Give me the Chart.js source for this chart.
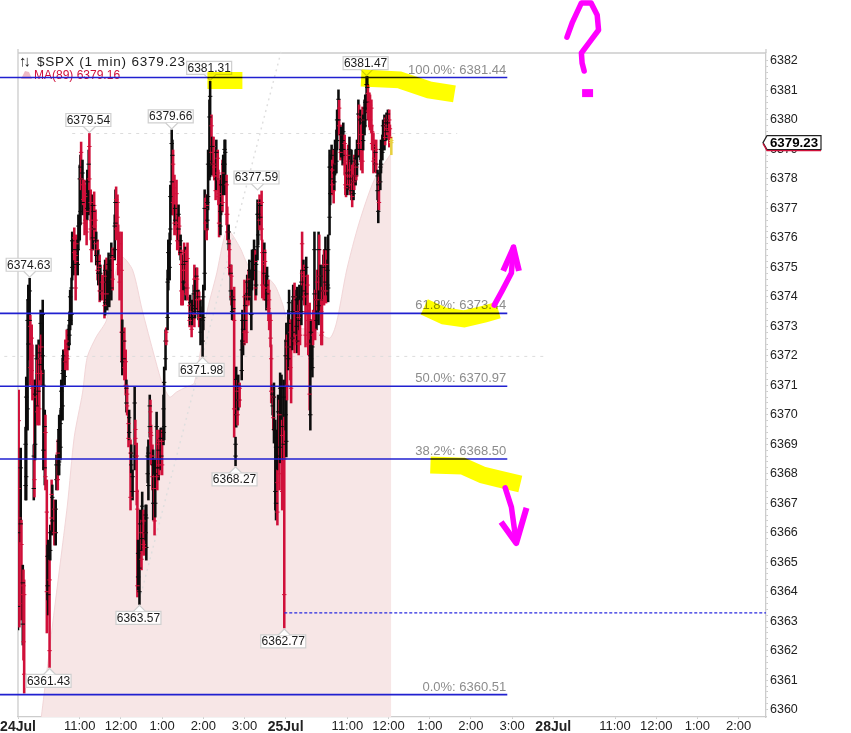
<!DOCTYPE html>
<html>
<head>
<meta charset="utf-8">
<title>$SPX (1 min)</title>
<script src="https://cdn.jsdelivr.net/npm/chart.js@4/dist/chart.umd.min.js"></script>
<style>
  html, body { margin: 0; padding: 0; background: #fff; }
  canvas { display: block; }
</style>
</head>
<body>
<canvas id="chart" width="851" height="733"></canvas>
<script>
// minutes since the open of 24Jul, 9:30
const barTimes = [
  0,1,2,4,5,7,8,9,11,12,
  14,15,17,18,20,21,23,24,25,27,
  28,30,31,33,34,36,37,39,40,42,
  43,44,46,47,49,50,53,55,56,58,
  59,60,62,63,65,66,68,69,71,72,
  74,75,76,78,79,81,82,84,85,87,
  88,90,91,92,94,95,97,98,100,101,
  103,104,106,107,109,110,111,113,114,116,
  117,119,120,123,126,127,129,130,132,133,
  136,138,141,142,143,145,146,148,151,152,
  154,155,157,158,159,161,162,164,165,167,
  170,171,173,174,175,177,178,180,181,183,
  184,186,187,189,190,192,193,194,196,197,
  199,200,202,203,205,206,208,209,210,212,
  213,215,216,218,219,221,222,224,225,226,
  228,229,231,232,234,235,237,238,240,241,
  242,244,245,247,250,251,253,254,256,257,
  258,260,261,263,264,266,269,270,272,273,
  275,276,277,279,280,282,283,285,286,288,
  289,291,292,293,295,296,298,299,301,302,
  304,305,307,308,310,311,312,314,315,317,
  318,320,321,323,326,327,328,330,331,333,
  334,336,337,340,341,344,346,347,349,350,
  352,353,355,356,358,359,360,362,363,365,
  366,368,369,371,372,373,375,376,378,379,
  381,382,384,385,387,388,390,391,392,394,
  395,397,398,400,401,403,404,406,407,409,
  410,411,413,414,416,417,419,420,422,423,
  425,426,427,429,430,432,433,435,436,438,
  439,441,442,443,445,446,448,449,451,452,
  454,455,457,458,460,461,462,464,465,467,
  468,470,471,473,474,476,477,478,480,481,
  483,484,486,487,489,490,492,493,494,496,
  497,499,500,502,503,505,506,508,509,510,
  512,513,515,516,518,519,521,522,524,525,
  526,528,529,531,532,534,535,537,538,539,
  541,542,544
];
const barHigh = [
  6367.11,6370.84,6367.45,6368.87,6366.43,6364.90,6364.74,6364.40,6369.58,6371.28,
  6373.89,6374.40,6374.63,6373.38,6373.05,6372.37,6368.98,6371.18,6371.18,6372.37,
  6371.86,6372.54,6372.37,6373.55,6372.71,6373.89,6371.52,6370.16,6369.99,6367.79,
  6365.58,6365.75,6365.07,6366.26,6367.79,6367.62,6367.11,6367.11,6368.64,6369.15,
  6369.48,6369.99,6370.16,6371.18,6371.93,6372.20,6372.03,6372.54,6372.88,6372.71,
  6373.05,6373.49,6374.23,6374.64,6376.20,6375.93,6376.34,6375.76,6376.10,6375.93,
  6376.78,6378.47,6378.81,6379.25,6378.64,6377.96,6377.96,6377.79,6377.29,6378.30,
  6378.98,6379.54,6377.63,6376.95,6377.46,6377.29,6377.56,6376.95,6376.20,6375.93,
  6375.59,6375.42,6375.08,6374.74,6375.08,6375.25,6375.32,6374.91,6375.49,6375.25,
  6375.83,6375.66,6376.78,6377.63,6377.73,6377.46,6376.44,6376.20,6376.20,6373.22,
  6372.88,6372.95,6372.20,6371.18,6371.01,6370.06,6370.16,6369.15,6368.98,6368.13,
  6370.94,6369.82,6369.04,6367.45,6365.75,6365.24,6366.77,6366.43,6367.38,6366.77,
  6366.26,6366.94,6366.94,6368.91,6369.15,6370.67,6370.50,6369.65,6368.98,6368.81,
  6367.96,6368.47,6370.09,6369.48,6369.15,6369.48,6369.55,6369.55,6369.48,6370.67,
  6371.62,6372.88,6372.95,6374.91,6375.93,6376.17,6377.79,6379.66,6379.32,6378.98,
  6378.13,6377.12,6377.96,6376.78,6377.12,6376.71,6376.10,6375.59,6375.25,6375.42,
  6375.83,6375.69,6375.59,6375.83,6373.99,6374.06,6373.79,6373.89,6374.40,6375.08,
  6374.57,6374.98,6374.98,6374.23,6374.17,6373.89,6373.66,6374.40,6377.63,6377.35,
  6377.46,6377.46,6378.98,6380.68,6381.31,6380.17,6379.42,6379.42,6378.64,6378.47,
  6379.32,6378.98,6378.30,6377.96,6377.12,6378.13,6378.64,6378.81,6379.32,6379.32,
  6378.13,6377.05,6376.44,6375.93,6375.08,6375.08,6374.23,6374.06,6374.33,6369.24,
  6371.62,6371.18,6371.35,6371.08,6372.54,6373.55,6373.22,6374.57,6374.06,6374.13,
  6374.74,6374.91,6375.25,6374.91,6375.59,6375.93,6375.59,6375.42,6377.29,6377.12,
  6377.46,6377.29,6377.59,6375.93,6375.42,6375.83,6375.59,6374.74,6375.01,6374.57,
  6374.23,6373.45,6372.37,6371.01,6371.01,6371.08,6369.82,6369.48,6368.13,6370.67,
  6370.50,6371.42,6371.35,6369.82,6371.18,6369.92,6372.54,6373.11,6372.71,6373.55,
  6374.23,6373.22,6373.22,6373.89,6374.40,6374.47,6373.89,6374.23,6374.33,6373.72,
  6374.40,6373.89,6374.91,6376.20,6375.25,6375.08,6373.79,6375.35,6374.74,6373.55,
  6373.79,6372.54,6373.22,6372.64,6373.55,6376.20,6374.23,6374.23,6374.91,6376.20,
  6376.10,6375.08,6373.89,6374.33,6375.42,6375.59,6376.03,6375.59,6375.25,6376.10,
  6378.98,6378.81,6379.15,6378.64,6378.98,6378.47,6379.32,6379.66,6380.34,6381.02,
  6380.68,6379.83,6379.76,6379.66,6379.90,6379.49,6378.98,6378.47,6378.47,6379.15,
  6379.42,6378.64,6378.98,6378.47,6378.13,6378.81,6378.98,6378.64,6379.32,6380.68,
  6380.51,6380.34,6379.83,6380.44,6380.17,6380.68,6380.85,6381.47,6381.47,6381.19,
  6380.92,6380.85,6380.68,6379.83,6379.56,6379.32,6379.15,6379.32,6378.30,6378.20,
  6378.13,6378.64,6379.32,6379.49,6380.00,6380.17,6380.07,6380.24,6380.17,6380.34,
  6380.34,6379.83,6379.42
];
const barLow = [
  6362.70,6366.77,6362.80,6365.69,6363.04,6362.19,6361.68,6360.56,6367.11,6367.11,
  6369.48,6371.86,6372.88,6371.01,6371.18,6370.50,6367.11,6367.21,6368.47,6369.82,
  6369.65,6370.33,6369.65,6371.18,6371.01,6371.52,6368.13,6367.62,6367.45,6362.60,
  6363.72,6363.21,6361.43,6365.07,6366.09,6365.92,6365.58,6365.58,6367.45,6367.45,
  6367.96,6367.96,6368.47,6369.82,6369.82,6371.18,6371.01,6371.52,6371.69,6371.52,
  6372.20,6372.37,6372.88,6373.05,6374.57,6374.74,6375.25,6373.89,6374.91,6374.74,
  6375.59,6375.93,6376.44,6377.63,6376.78,6377.12,6376.10,6376.27,6375.76,6376.61,
  6376.78,6377.63,6375.93,6375.18,6375.59,6375.93,6375.93,6375.42,6375.08,6374.57,
  6374.40,6373.83,6373.89,6373.89,6373.28,6373.38,6373.72,6373.55,6374.06,6373.66,
  6373.89,6374.23,6375.25,6376.10,6375.93,6376.44,6374.74,6373.89,6371.79,6371.35,
  6371.52,6371.18,6370.67,6370.09,6369.99,6368.91,6369.15,6366.77,6368.03,6367.11,
  6368.13,6368.98,6366.94,6363.82,6364.06,6363.57,6365.07,6364.74,6365.41,6365.24,
  6365.24,6365.75,6365.07,6367.69,6367.11,6369.24,6368.98,6368.30,6367.45,6366.43,
  6365.92,6366.53,6367.69,6367.45,6367.79,6367.96,6368.13,6368.30,6367.96,6368.98,
  6369.15,6371.52,6372.37,6372.88,6374.23,6374.57,6375.93,6377.46,6376.78,6376.78,
  6376.10,6376.44,6376.10,6375.59,6375.93,6375.42,6375.25,6373.72,6373.72,6374.23,
  6374.57,6373.89,6374.06,6373.89,6372.98,6373.05,6372.64,6373.05,6373.22,6372.98,
  6373.28,6373.89,6373.55,6373.22,6372.98,6372.37,6371.98,6372.88,6374.23,6376.27,
  6375.93,6376.27,6376.95,6377.96,6378.07,6378.47,6378.13,6378.13,6377.96,6377.29,
  6377.63,6377.96,6377.12,6376.03,6376.10,6376.78,6376.88,6377.46,6378.13,6377.46,
  6376.44,6375.93,6375.59,6374.74,6373.89,6373.72,6373.22,6373.38,6369.24,6368.27,
  6369.58,6369.65,6370.16,6370.26,6371.18,6372.10,6372.03,6372.37,6372.88,6372.44,
  6373.89,6373.72,6373.89,6372.88,6374.23,6374.57,6373.89,6374.06,6375.25,6375.76,
  6376.27,6376.44,6375.93,6373.96,6373.89,6374.40,6373.89,6373.55,6373.72,6373.22,
  6372.88,6372.30,6370.40,6369.99,6369.48,6369.04,6366.77,6366.43,6366.26,6368.13,
  6367.45,6368.37,6369.15,6366.77,6368.47,6362.77,6369.48,6368.57,6370.50,6371.52,
  6371.86,6371.18,6370.40,6372.20,6372.37,6372.10,6372.37,6372.71,6372.10,6372.03,
  6372.88,6372.37,6373.05,6374.40,6373.89,6373.72,6372.30,6373.72,6373.38,6372.03,
  6370.16,6369.48,6371.52,6371.28,6372.37,6373.55,6372.54,6372.88,6373.55,6373.05,
  6374.23,6373.55,6372.37,6372.37,6373.89,6373.72,6374.06,6373.79,6374.06,6373.83,
  6376.10,6377.12,6377.63,6377.46,6377.18,6377.63,6378.13,6378.20,6378.98,6379.56,
  6379.49,6378.64,6378.74,6378.47,6378.74,6378.13,6377.46,6377.39,6377.46,6377.79,
  6377.63,6377.46,6377.29,6377.05,6377.29,6377.63,6377.79,6377.96,6378.13,6378.74,
  6378.81,6378.64,6378.30,6378.20,6378.98,6379.49,6379.76,6380.34,6380.24,6380.00,
  6379.76,6379.66,6379.56,6378.98,6378.20,6378.47,6378.24,6378.20,6377.29,6376.51,
  6376.95,6377.63,6378.20,6378.64,6378.98,6378.98,6379.15,6379.32,6379.49,6379.66,
  6379.08,6379.32,6378.82
];
const barOpen = [
  6363.5,6369.8,6366.5,6366.3,6365.6,6362.9,6364.2,6363.9,6367.6,6367.9,
  6370.2,6372.4,6373.2,6373.0,6372.6,6372.0,6367.5,6370.6,6369.0,6370.3,
  6371.4,6370.8,6371.9,6371.7,6372.3,6372.0,6368.8,6368.2,6369.4,6366.7,
  6364.2,6363.9,6364.4,6365.4,6367.3,6366.4,6366.8,6366.0,6367.8,6368.7,
  6368.3,6368.4,6368.9,6370.2,6370.3,6371.5,6371.3,6372.2,6372.5,6372.3,
  6372.4,6372.7,6373.2,6373.4,6375.0,6375.1,6376.0,6375.4,6375.8,6375.1,
  6375.9,6376.5,6376.9,6378.9,6377.2,6377.8,6377.5,6377.4,6376.9,6377.0,
  6377.2,6379.1,6377.2,6376.6,6376.0,6376.3,6377.1,6376.6,6375.4,6375.6,
  6374.8,6375.0,6374.2,6374.5,6374.7,6373.8,6374.9,6373.9,6374.4,6374.1,
  6374.3,6375.3,6375.6,6376.5,6377.3,6377.2,6376.0,6375.8,6374.9,6371.8,
  6371.9,6372.5,6371.8,6370.4,6370.7,6369.7,6369.4,6368.7,6368.3,6367.4,
  6368.6,6369.5,6368.6,6366.8,6364.5,6364.0,6365.4,6366.0,6365.8,6366.4,
  6366.0,6366.0,6365.5,6368.0,6367.6,6369.6,6370.1,6369.3,6368.6,6367.0,
  6367.5,6367.0,6368.2,6369.0,6368.2,6369.1,6368.5,6368.6,6369.1,6369.4,
  6369.6,6371.9,6372.8,6373.3,6374.6,6375.0,6376.3,6377.9,6377.2,6378.5,
  6377.7,6376.6,6377.5,6376.5,6376.3,6376.4,6375.5,6375.1,6374.9,6374.5,
  6375.5,6374.3,6375.2,6375.3,6373.7,6373.3,6373.5,6373.3,6373.5,6374.6,
  6373.6,6374.2,6374.6,6373.5,6373.9,6372.8,6372.5,6373.3,6374.8,6377.0,
  6377.1,6376.6,6377.4,6378.4,6378.6,6379.8,6378.5,6379.1,6378.4,6378.1,
  6378.0,6378.7,6378.0,6377.5,6376.4,6377.1,6378.2,6377.8,6378.5,6377.9,
  6377.8,6376.8,6375.8,6375.6,6374.2,6374.7,6373.5,6373.6,6373.2,6368.6,
  6370.0,6370.8,6370.5,6370.9,6371.5,6372.5,6372.4,6374.0,6373.2,6373.7,
  6374.1,6374.6,6374.3,6373.4,6374.6,6374.9,6375.2,6374.4,6375.7,6376.1,
  6377.2,6376.7,6377.2,6375.5,6375.1,6374.8,6375.2,6373.9,6374.1,6374.2,
  6373.9,6373.2,6371.9,6370.3,6370.6,6369.5,6367.4,6367.0,6367.7,6368.6,
  6370.0,6368.9,6369.6,6369.3,6369.0,6368.5,6370.0,6369.1,6372.3,6371.9,
  6372.3,6372.8,6372.6,6372.6,6372.8,6374.0,6373.5,6373.0,6372.5,6373.3,
  6373.2,6373.5,6373.5,6375.8,6374.2,6374.7,6373.5,6374.1,6374.4,6373.2,
  6373.2,6370.0,6371.9,6371.6,6373.2,6374.1,6373.9,6373.2,6374.5,6373.7,
  6375.6,6373.9,6373.5,6373.9,6374.2,6375.1,6374.5,6375.1,6374.4,6374.3,
  6376.7,6377.5,6378.0,6378.3,6378.5,6377.9,6378.5,6378.6,6379.3,6380.0,
  6380.4,6379.5,6379.0,6378.8,6379.0,6379.2,6378.6,6378.2,6377.7,6378.8,
  6378.0,6378.3,6377.6,6378.1,6377.5,6378.5,6378.1,6378.4,6378.5,6379.2,
  6380.1,6379.0,6379.5,6380.0,6379.3,6379.8,6380.0,6380.6,6380.6,6380.9,
  6380.6,6380.5,6380.4,6379.6,6379.2,6379.1,6378.5,6379.0,6377.6,6376.9,
  6377.9,6377.9,6378.5,6378.9,6379.3,6379.3,6379.8,6379.6,6380.0,6379.9,
  6380.0,6379.7,6379.3
];
const barClose = [
  6366.0,6367.5,6363.6,6368.2,6363.9,6364.3,6362.3,6361.2,6369.0,6370.6,
  6373.2,6373.9,6374.2,6371.6,6371.5,6370.9,6368.6,6367.8,6370.7,6371.9,
  6370.1,6372.1,6370.2,6373.1,6371.4,6373.4,6371.0,6369.6,6367.9,6364.0,
  6365.2,6365.2,6362.0,6366.0,6366.5,6367.2,6366.0,6366.8,6368.3,6367.8,
  6369.1,6369.5,6369.7,6370.8,6371.4,6372.0,6371.8,6371.8,6372.0,6371.9,
  6372.9,6373.2,6374.0,6374.3,6375.9,6375.6,6375.5,6374.3,6375.2,6375.6,
  6376.4,6378.0,6378.4,6378.0,6378.2,6377.3,6376.5,6376.6,6376.2,6377.9,
  6378.5,6378.0,6376.3,6375.6,6377.1,6376.9,6376.4,6375.8,6375.9,6374.9,
  6375.2,6374.2,6374.8,6374.1,6373.7,6374.9,6374.1,6374.5,6375.1,6374.9,
  6375.4,6374.6,6376.4,6377.2,6376.3,6376.7,6375.1,6374.5,6372.8,6372.8,
  6372.5,6371.6,6371.0,6370.9,6370.3,6369.2,6369.9,6367.2,6368.7,6367.9,
  6370.4,6369.2,6367.4,6364.2,6365.3,6364.8,6366.3,6365.1,6366.9,6365.6,
  6365.5,6366.6,6366.5,6368.6,6368.7,6370.3,6369.4,6368.6,6367.9,6368.3,
  6366.4,6368.0,6369.6,6367.9,6368.8,6368.3,6369.2,6369.2,6368.3,6370.2,
  6371.1,6372.5,6372.5,6374.5,6375.5,6375.8,6377.4,6379.2,6378.8,6377.2,
  6376.5,6377.0,6376.5,6375.9,6376.8,6375.7,6375.9,6374.2,6374.1,6375.1,
  6374.9,6375.2,6374.4,6374.3,6373.2,6373.8,6372.9,6373.7,6374.1,6373.4,
  6374.2,6374.7,6373.9,6374.0,6373.3,6373.5,6373.2,6374.0,6377.0,6376.5,
  6376.3,6377.2,6378.5,6380.1,6380.8,6378.9,6379.1,6378.5,6378.1,6377.6,
  6378.9,6378.2,6377.4,6376.5,6376.9,6377.8,6377.2,6378.5,6379.0,6378.9,
  6376.8,6376.2,6376.2,6375.0,6374.8,6374.0,6374.0,6373.9,6370.2,6369.0,
  6371.2,6370.0,6371.0,6370.5,6372.2,6373.2,6372.9,6372.8,6373.7,6372.8,
  6374.5,6374.0,6374.9,6374.4,6375.2,6375.6,6374.3,6375.1,6376.8,6376.8,
  6376.6,6377.1,6376.3,6374.4,6374.3,6375.5,6374.3,6374.4,6374.7,6373.6,
  6373.2,6372.6,6370.8,6370.7,6369.9,6370.6,6369.2,6368.9,6366.7,6370.1,
  6368.0,6370.9,6370.9,6367.4,6370.6,6363.9,6372.0,6372.5,6371.0,6373.1,
  6373.8,6371.6,6370.9,6373.5,6374.0,6372.5,6372.7,6373.9,6373.9,6372.4,
  6374.0,6372.7,6374.5,6374.8,6374.9,6374.0,6372.7,6375.0,6373.7,6372.4,
  6370.7,6372.0,6372.8,6372.3,6372.7,6375.6,6372.9,6373.9,6373.9,6375.6,
  6374.7,6374.7,6372.7,6372.8,6375.0,6374.2,6375.6,6374.2,6374.9,6375.6,
  6378.4,6378.4,6378.8,6377.8,6377.6,6378.2,6379.0,6379.3,6380.0,6380.7,
  6379.8,6378.9,6379.5,6379.3,6379.6,6378.5,6377.8,6377.7,6378.2,6378.1,
  6379.0,6377.8,6378.6,6377.4,6377.9,6377.9,6378.7,6378.1,6379.0,6380.2,
  6379.2,6380.0,6378.6,6378.6,6379.9,6380.4,6380.6,6381.2,6381.1,6380.3,
  6380.1,6380.0,6379.8,6379.2,6378.6,6378.7,6378.9,6378.5,6378.1,6377.8,
  6377.2,6378.4,6379.0,6379.3,6379.8,6379.9,6379.4,6380.0,6379.7,6380.2,
  6379.4,6379.4,6379.23
];

// MA(89) outline
const maTimes = [
  34,53,72,82,94,101,114,129,143,152,167,181,199,210,221,231,245,257,275,289,
  305,323,337,356,374,385,393,410,429,454,464,479,497,519,544
];
const maValues = [
  6359.75,6363.38,6366.94,6369.25,6370.74,6371.96,6372.64,6373.21,6374.91,6375.35,
  6374.91,6373.55,6371.96,6371.08,6370.60,6370.77,6370.94,6371.08,6373.45,6374.74,
  6376.27,6375.69,6375.01,6374.81,6374.40,6373.79,6373.21,6372.94,6372.88,6372.60,
  6373.11,6374.91,6376.50,6377.96,6378.88
];

// fibonacci levels
const fibLevels = [6381.44, 6373.44, 6370.97, 6368.50, 6360.51];
const fibNames = ['100.0%', '61.8%', '50.0%', '38.2%', '0.0%'];
const fibStart = -27;
const fibEnd = 713;

// peak and trough callouts
const calloutTimes = [17, 104, 224, 280, 349, 508, 269, 317, 177, 388, 46];
const calloutPrices = [6374.63, 6379.54, 6379.66, 6381.31, 6377.59, 6381.47, 6371.98, 6368.27, 6363.57, 6362.77, 6361.43];
const calloutBelow = [false, false, false, false, false, false, true, true, true, true, true];

// dotted and dashed guides
const guideHigh = [[79, 6379.54], [640, 6379.54]];
const guideMid = [[-20, 6371.98], [770, 6371.98]];
const guideDiagonal = [[177, 6363.72], [384, 6382.37]];
const guideLow = [[388, 6363.28], [1090, 6363.28]];

// hand drawn yellow marker
const markerTop = [[276, 6381.34], [327, 6381.34]];
const markerRight = [[500, 6381.42], [556, 6381.36], [599, 6381.02], [636, 6380.88]];
const markerMiddle = [[592, 6373.66], [621, 6373.35], [650, 6373.25], [680, 6373.42], [700, 6373.55]];
const markerLower = [[601, 6368.30], [648, 6368.26], [677, 6367.96], [701, 6367.82], [732, 6367.65]];

// hand drawn magenta pen
const penQuestion = [[800, 6382.81], [808, 6383.32], [821, 6383.97], [835, 6383.97], [844, 6383.56], [846, 6383.05], [832, 6382.61], [821, 6382.27], [822, 6381.93], [825, 6381.66]];
const penDot = [[822, 6380.91], [838, 6380.91]];
const penUpShaft = [[694, 6373.72], [706, 6374.23], [719, 6374.81], [722, 6375.69]];
const penUpHead = [[707, 6374.88], [722, 6375.66], [730, 6374.88]];
const penDownShaft = [[710, 6367.52], [719, 6366.87], [726, 6365.68]];
const penDownHead = [[704, 6366.36], [726, 6365.65], [741, 6366.84]];

// axis
const timeTicks = [0, 90, 150, 210, 270, 330, 390, 480, 540, 600, 660, 720, 780, 870, 930, 990, 1050];
const timeLabels = ['24Jul', '11:00', '12:00', '1:00', '2:00', '3:00', '25Jul', '11:00', '12:00', '1:00', '2:00', '3:00', '28Jul', '11:00', '12:00', '1:00', '2:00'];
const priceTicks = [6360, 6361, 6362, 6363, 6364, 6365, 6366, 6367, 6368, 6369, 6370, 6371, 6372, 6373, 6374, 6375, 6376, 6377, 6378, 6379, 6380, 6381, 6382];
const lastPrice = 6379.23;
const maLast = 6379.16;

const FONT = '"Liberation Sans", Arial, sans-serif';
const RED = '#d0103a';
const BLACK = '#0c0c0c';

function barColor(i) {
    if (i === barTimes.length - 1) return '#e8d040';
    return barClose[i] < barOpen[i] ? RED : BLACK;
}

function toPoints(pairs) {
    return pairs.map(p => ({ x: p[0], y: p[1] }));
}

function strokeSet(label, pairs, color, width, order, extra) {
    return Object.assign({
        type: 'line', label: label, data: toPoints(pairs), borderColor: color, borderWidth: width,
        pointRadius: 0, fill: false, tension: 0, clip: false, order: order
    }, extra || {});
}

function drawLabels(chart) {
    const ctx = chart.ctx, xs = chart.scales.x, ys = chart.scales.y;
    ctx.save();

    // fibonacci captions, grey above each line
    ctx.font = '13px ' + FONT;
    ctx.fillStyle = '#8c8c8c';
    ctx.textAlign = 'right';
    ctx.textBaseline = 'bottom';
    fibLevels.forEach((v, i) => {
        ctx.fillText(fibNames[i] + ': ' + v.toFixed(2), xs.getPixelForValue(fibEnd) - 1, ys.getPixelForValue(v) - 1);
    });

    // callouts with a small pointer
    ctx.font = '12px ' + FONT;
    ctx.textAlign = 'center';
    ctx.textBaseline = 'middle';
    calloutPrices.forEach((v, i) => {
        const px = xs.getPixelForValue(calloutTimes[i]);
        const py = ys.getPixelForValue(v);
        const dir = calloutBelow[i] ? 1 : -1;
        const boxY = calloutBelow[i] ? py + 7 : py - 20;
        const left = px - 23.5;
        ctx.beginPath();
        ctx.rect(left, boxY, 45, 13);
        ctx.fillStyle = 'rgba(255,255,255,0.9)';
        ctx.fill();
        ctx.strokeStyle = '#cfcfcf';
        ctx.lineWidth = 1.2;
        ctx.stroke();
        ctx.beginPath();
        ctx.moveTo(px - 6, py + dir * 7);
        ctx.lineTo(px, py + dir);
        ctx.lineTo(px + 6, py + dir * 7);
        ctx.fillStyle = '#fff';
        ctx.fill();
        ctx.stroke();
        ctx.fillStyle = '#1c1c1c';
        ctx.fillText(v.toFixed(2), left + 22.5, boxY + 7);
    });

    // top left legend
    ctx.textAlign = 'left';
    ctx.fillStyle = '#1c1c1c';
    ctx.font = 'bold 15px ' + FONT;
    ctx.letterSpacing = '-3px';
    ctx.fillText('↑↓', 19, 62);
    ctx.letterSpacing = '0.8px';
    ctx.font = '13.5px ' + FONT;
    ctx.fillText('$SPX (1 min) ' + lastPrice.toFixed(2), 37, 62);
    ctx.letterSpacing = '0px';
    ctx.font = '12px ' + FONT;
    ctx.fillStyle = RED;
    ctx.fillText('MA(89) ' + maLast.toFixed(2), 34, 76);
    ctx.beginPath();
    ctx.moveTo(21, 79);
    ctx.lineTo(25, 71);
    ctx.lineTo(29, 72);
    ctx.lineTo(32, 79);
    ctx.closePath();
    ctx.fillStyle = '#eeb8c4';
    ctx.fill();
    ctx.restore();
}

function drawPriceFlag(chart) {
    const ctx = chart.ctx, ys = chart.scales.y;
    const py = ys.getPixelForValue(lastPrice);
    ctx.save();
    ctx.beginPath();
    ctx.moveTo(763, py);
    ctx.lineTo(767, py - 7);
    ctx.lineTo(821, py - 7);
    ctx.lineTo(821, py + 7);
    ctx.lineTo(767, py + 7);
    ctx.closePath();
    ctx.fillStyle = '#fff';
    ctx.fill();
    ctx.strokeStyle = '#222';
    ctx.lineWidth = 1.2;
    ctx.stroke();
    ctx.beginPath();
    ctx.moveTo(763, py + 1);
    ctx.lineTo(767, py + 8);
    ctx.lineTo(821, py + 8);
    ctx.strokeStyle = RED;
    ctx.stroke();
    ctx.fillStyle = '#000';
    ctx.font = 'bold 13.3px ' + FONT;
    ctx.textAlign = 'center';
    ctx.textBaseline = 'middle';
    ctx.fillText(lastPrice.toFixed(2), 794, py + 0.5);
    ctx.restore();
}

const chartDecor = {
    id: 'chartDecor',
    beforeDraw(chart) {
        const ctx = chart.ctx, a = chart.chartArea;
        ctx.save();
        ctx.fillStyle = '#fff';
        ctx.fillRect(0, 0, chart.width, chart.height);
        ctx.strokeStyle = '#cccccc';
        ctx.lineWidth = 1.3;
        ctx.beginPath();
        ctx.moveTo(a.left, a.bottom);
        ctx.lineTo(a.left, a.top - 4);
        ctx.moveTo(a.left, a.top);
        ctx.lineTo(a.right, a.top);
        ctx.moveTo(a.right, a.top - 4);
        ctx.lineTo(a.right, a.top);
        ctx.stroke();
        ctx.restore();
    },
    beforeDatasetDraw(chart, args) {
        if (chart.data.datasets[args.index].marker) {
            chart.ctx.globalCompositeOperation = 'multiply';
        }
    },
    afterDatasetDraw(chart, args) {
        const ds = chart.data.datasets[args.index];
        if (ds.marker) {
            chart.ctx.globalCompositeOperation = 'source-over';
        }
        if (ds.label === 'close ticks') {
            drawLabels(chart);
        }
    },
    afterDraw(chart) {
        drawPriceFlag(chart);
    }
};

const bars = barTimes.map((t, i) => ({ x: t, y: [barLow[i], barHigh[i]] }));
const opens = barTimes.map((t, i) => ({ x: t, y: barOpen[i] }));
const closes = barTimes.map((t, i) => ({ x: t, y: barClose[i] }));
const colors = barTimes.map((t, i) => barColor(i));

const datasets = [
    {
        type: 'line', label: 'MA(89)', data: maTimes.map((t, i) => ({ x: t, y: maValues[i] })),
        borderColor: '#f2d6d8', borderWidth: 1, backgroundColor: '#f7e6e6', fill: 'origin',
        pointRadius: 0, tension: 0.25, order: 60
    },
    strokeSet('guide high', guideHigh, '#dcdcdc', 1, 55, { borderDash: [3, 5] }),
    strokeSet('guide mid', guideMid, '#dcdcdc', 1, 55, { borderDash: [3, 5] }),
    strokeSet('guide diagonal', guideDiagonal, '#dedede', 1.4, 55, { borderDash: [2, 4] }),
    {
        type: 'bar', label: '$SPX', data: bars, backgroundColor: colors, borderWidth: 0,
        barThickness: 1.9, order: 50
    },
    {
        type: 'line', label: 'open ticks', data: opens, showLine: false, pointStyle: 'line', pointRadius: 2.2,
        pointBorderColor: colors, pointBorderWidth: 1, order: 46
    },
    {
        type: 'line', label: 'close ticks', data: closes, showLine: false, pointStyle: 'line', pointRadius: 2.2,
        pointBorderColor: colors, pointBorderWidth: 1, order: 45
    }
];

fibLevels.forEach(v => {
    datasets.push(strokeSet('fib', [[fibStart, v], [fibEnd, v]], '#2020d0', 1.6, 40));
});
datasets.push(strokeSet('guide low', guideLow, '#2a2ae0', 1.2, 39, { borderDash: [3, 2] }));

[markerTop, markerRight, markerMiddle, markerLower].forEach(m => {
    datasets.push(strokeSet('marker', m, '#ffff00', 17, 20, { marker: true }));
});
[penQuestion, penUpShaft, penDownShaft].forEach(p => {
    datasets.push(strokeSet('pen', p, '#ff00ff', 5.5, 10, { borderJoinStyle: 'round', borderCapStyle: 'round' }));
});
[penUpHead, penDownHead].forEach(p => {
    datasets.push(strokeSet('pen', p, '#ff00ff', 6, 10, { borderJoinStyle: 'round' }));
});
datasets.push(strokeSet('pen', penDot, '#ff00ff', 8, 10));

new Chart(document.getElementById('chart').getContext('2d'), {
    type: 'bar',
    data: { datasets: datasets },
    plugins: [chartDecor],
    options: {
        responsive: false,
        animation: false,
        events: [],
        layout: { padding: { left: 18, top: 53, right: 0, bottom: 0 } },
        plugins: { legend: { display: false }, tooltip: { enabled: false }, title: { display: false } },
        scales: {
            x: {
                type: 'linear',
                min: 0,
                max: 1090,
                offset: false,
                grid: { display: true, offset: false, drawOnChartArea: false, tickLength: 2, color: '#cccccc' },
                border: { color: '#cccccc', width: 1.3 },
                afterBuildTicks(scale) {
                    scale.ticks = timeTicks.map(v => ({ value: v }));
                },
                afterFit(scale) {
                    scale.height = 16;
                },
                ticks: {
                    autoSkip: false,
                    maxRotation: 0,
                    padding: 0,
                    color: '#222',
                    font(ctx) {
                        const isDate = ctx.tick && timeLabels[timeTicks.indexOf(ctx.tick.value)].indexOf('Jul') > 0;
                        return { family: FONT, size: isDate ? 14 : 13, weight: isDate ? 'bold' : 'normal' };
                    },
                    callback(value) {
                        return timeLabels[timeTicks.indexOf(value)];
                    }
                }
            },
            y: {
                position: 'right',
                min: 6359.75,
                max: 6382.27,
                grid: { display: true, drawOnChartArea: false, tickLength: 2, color: '#cccccc' },
                border: { color: '#cccccc', width: 1.3 },
                afterBuildTicks(scale) {
                    const all = [];
                    priceTicks.forEach(v => {
                        all.push({ value: v });
                        for (let k = 1; k < 5 && v < 6382; k++) {
                            all.push({ value: v + k * 0.2 });
                        }
                    });
                    scale.ticks = all;
                },
                afterFit(scale) {
                    scale.width = 85;
                },
                ticks: {
                    autoSkip: false,
                    padding: 2,
                    color: '#222',
                    font: { family: FONT, size: 12.5 },
                    callback(value) {
                        return Number.isInteger(value) ? String(value) : '';
                    }
                }
            }
        }
    }
});
</script>
</body>
</html>
